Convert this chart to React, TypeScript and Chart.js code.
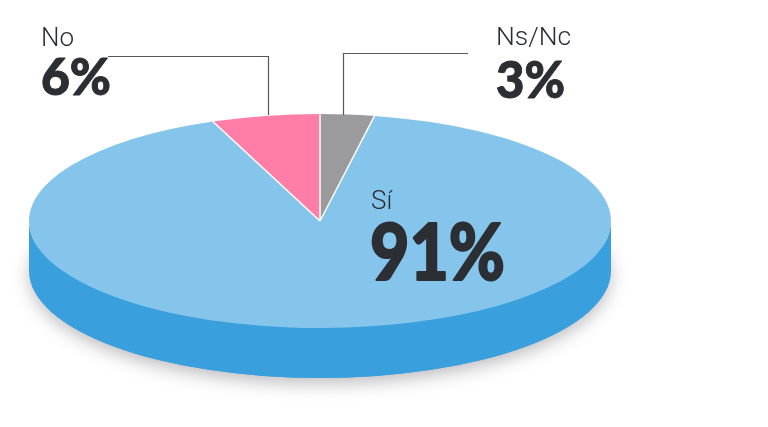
import React, { useEffect, useRef } from "react";
import { Chart, registerables } from "chart.js";

Chart.register(...registerables);

const categories = ["Sí", "No", "Ns/Nc"];
const values = [91, 6, 3];
const percentLabels = ["91%", "6%", "3%"];
const colors = ["#85C5EC", "#FF7EA8", "#9B9B9E"];

const CX = 320, CY = 221, RX = 291, RY = 107, DEPTH = 50;
const FONT = "Lato, Roboto, sans-serif";
const LIGHT = "Roboto, sans-serif";
const INK = "#2B2E33";

const piePlugin = {
  id: "tilt",
  beforeDatasetsDraw(chart: any) {
    const ctx = chart.ctx;
    ctx.save();
    ctx.save();
    ctx.shadowColor = "rgba(70,70,80,0.38)";
    ctx.shadowBlur = 18;
    ctx.shadowOffsetY = 5;
    ctx.fillStyle = "#3A9FDD";
    ctx.beginPath();
    ctx.ellipse(CX, CY + DEPTH, RX - 1, RY, 0, 0, Math.PI * 2);
    ctx.fill();
    ctx.restore();
    ctx.fillStyle = "#3A9FDD";
    ctx.beginPath();
    ctx.ellipse(CX, CY + DEPTH, RX, RY, 0, 0, Math.PI);
    ctx.lineTo(CX - RX, CY);
    ctx.ellipse(CX, CY, RX, RY, 0, Math.PI, 0, true);
    ctx.closePath();
    ctx.fill();
    ctx.restore();
    ctx.save();
    const arc = chart.getDatasetMeta(0).data[0];
    const ax = arc.x, ay = arc.y, r = arc.outerRadius;
    ctx.translate(CX, CY);
    ctx.scale(RX / r, RY / r);
    ctx.translate(-ax, -ay);
  },
  afterDatasetsDraw(chart: any) {
    const ctx = chart.ctx;
    ctx.restore();
    ctx.save();
    ctx.strokeStyle = "#FFFFFF";
    ctx.lineWidth = 1.5;
    ctx.beginPath();
    chart.getDatasetMeta(0).data.forEach((a: any) => {
      ctx.moveTo(CX, CY);
      ctx.lineTo(CX + RX * Math.cos(a.startAngle), CY + RY * Math.sin(a.startAngle));
    });
    ctx.stroke();
    ctx.restore();

    ctx.save();
    ctx.strokeStyle = "#55585D";
    ctx.lineWidth = 1.2;
    ctx.beginPath();
    ctx.moveTo(108, 56.5);
    ctx.lineTo(268.5, 56.5);
    ctx.lineTo(268.5, 115);
    ctx.moveTo(468, 53.5);
    ctx.lineTo(343.5, 53.5);
    ctx.lineTo(343.5, 115);
    ctx.stroke();
    ctx.fillStyle = INK;
    ctx.strokeStyle = INK;
    ctx.lineJoin = "round";
    ctx.textBaseline = "alphabetic";
    ctx.textAlign = "left";
    const text = (s: string, x: number, y: number, font: string, family: string, w: number, bold: number) => {
      ctx.font = font + " " + family;
      ctx.fillText(s, x, y, w);
      if (bold > 0) {
        ctx.lineWidth = bold;
        ctx.strokeText(s, x, y, w);
      }
    };
    text(categories[1], 41, 46, "300 26px", LIGHT, 34, 0);
    text(percentLabels[1], 41, 95, "900 52px", FONT, 70, 1);
    text(categories[2], 496, 45, "300 26.5px", LIGHT, 76, 0);
    text(percentLabels[2], 496, 98, "900 52px", FONT, 69, 1);
    text(categories[0], 371, 209, "300 26px", LIGHT, 24, 0);
    text(percentLabels[0], 370, 280, "900 79px", FONT, 135, 2);
    ctx.restore();
  },
};

export default function App() {
  const ref = useRef<HTMLCanvasElement>(null);
  useEffect(() => {
    const chart = new Chart(ref.current as HTMLCanvasElement, {
      type: "pie",
      data: {
        labels: categories,
        datasets: [{ data: values, backgroundColor: colors, borderWidth: 0 }],
      },
      options: {
        responsive: false,
        animation: false,
        rotation: 10.8,
        layout: { padding: 0 },
        plugins: { legend: { display: false }, tooltip: { enabled: false } },
      },
      plugins: [piePlugin],
    } as any);
    return () => chart.destroy();
  }, []);
  return (
    <canvas
      ref={ref}
      width={768}
      height={427}
      style={{ position: "fixed", left: 0, top: 0, width: 768, height: 427, display: "block" }}
    />
  );
}
